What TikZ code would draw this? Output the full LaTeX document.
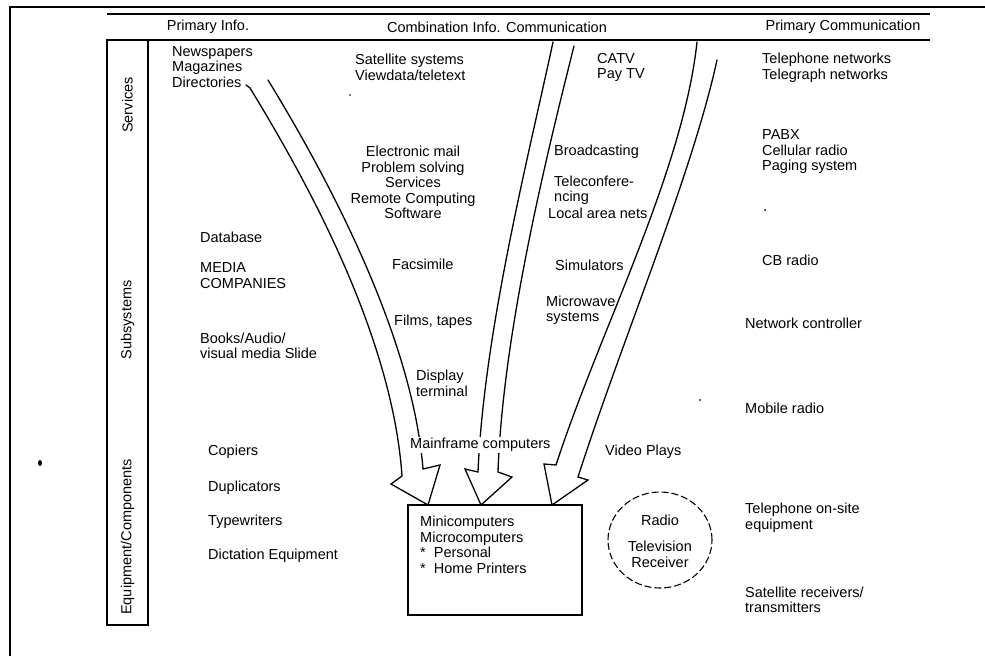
\documentclass[tikz,border=0pt]{standalone}
\usepackage{fontspec}
\setmainfont{Liberation Sans}
\usetikzlibrary{shapes.geometric}
\begin{document}
\begin{tikzpicture}[x=1pt,y=-1pt,
  txt/.style={font=\fontsize{14.5}{15.5}\selectfont, inner sep=0pt, align=left, anchor=west},
  ctxt/.style={font=\fontsize{14.5}{15.5}\selectfont, inner sep=0pt, align=center},
  rot/.style={font=\fontsize{14.5}{15.5}\selectfont, inner sep=0pt, rotate=90},
  rule/.style={line width=1.4pt},
  flow/.style={line width=1.3pt, line join=miter, line cap=round},
  speck/.style={fill=black}]
\useasboundingbox (0,0) rectangle (985,656);

% outer frame and header rules
\draw[rule] (10,656) -- (10,7) -- (985,7);
\draw[rule] (107,14) -- (930,14);
\draw[rule] (107,40) -- (930,40);

% row-label strip
\draw[line width=1.2pt] (107,40) rectangle (148,625);
\node[rot] (rowS) at (127.5,105) {Services};
\node[rot] (rowSub) at (127.5,320) {Subsystems};
\node[rot] (rowEq) at (127.5,537) {Equipment/Components};

% column headers
\node[ctxt] (hPI) at (208,27) {Primary Info.};
\node[ctxt] (hCIC) at (497,27) {Combination Info. Communication};
\node[ctxt] (hPC) at (843,27) {Primary Communication};

% primary information
\node[txt] (news) at (172,67) {Newspapers\\Magazines\\Directories};
\node[txt] (db) at (200,237) {Database};
\node[txt] (media) at (200,275.5) {MEDIA\\COMPANIES};
\node[txt] (books) at (200,346) {Books/Audio/\\visual media Slide};
\node[txt] (cop) at (208,452) {Copiers};
\node[txt] (dup) at (208,488) {Duplicators};
\node[txt] (typ) at (208,522) {Typewriters};
\node[txt] (dict) at (208,556) {Dictation Equipment};

% combination column
\node[txt] (sat) at (355,67.5) {Satellite systems\\Viewdata/teletext};
\node[ctxt] (email) at (413,182.5) {Electronic mail\\Problem solving\\Services\\Remote Computing\\Software};
\node[txt] (fax) at (392,264) {Facsimile};
\node[txt] (films) at (394,322) {Films, tapes};
\node[txt] (disp) at (416,383.5) {Display\\terminal};
\node[txt] (catv) at (597,67.5) {CATV\\Pay TV};
\node[txt] (bc) at (554,152) {Broadcasting};
\node[txt] (tele) at (554,190) {Teleconfere-\\ncing};
\node[txt] (lan) at (548,213) {Local area nets};
\node[txt] (sim) at (555,265) {Simulators};
\node[txt] (mw) at (546,310) {Microwave\\systems};

% primary communication
\node[txt] (tel) at (762,67.5) {Telephone networks\\Telegraph networks};
\node[txt] (pabx) at (762,152) {PABX\\Cellular radio\\Paging system};
\node[txt] (cb) at (762,260) {CB radio};
\node[txt] (net) at (745,323) {Network controller};
\node[txt] (mob) at (745,408) {Mobile radio};
\node[txt] (vid) at (605,452) {Video Plays};
\node[txt] (tos) at (745,517.5) {Telephone on-site\\equipment};
\node[txt] (satr) at (745,600) {Satellite receivers/\\transmitters};

% computer box
\node[draw, line width=1.2pt, minimum width=174pt, minimum height=110pt, inner sep=0pt] (box) at (495,560) {};
\node[txt] (mini) at (420,545) {Minicomputers\\Microcomputers\\*~~Personal\\*~~Home Printers};

% radio / television group
\node[draw, dashed, dash pattern=on 7pt off 3pt, line width=1.1pt, ellipse,
      minimum width=104pt, minimum height=96pt, inner sep=0pt] (rtv) at (660,540) {};
\node[ctxt] (radio) at (660,520) {Radio};
\node[ctxt] (tvr) at (660,554.5) {Television\\Receiver};

% hollow flow arrows into the box
\coordinate (aTopL) at (250,88);
\coordinate (aTopR) at (268,80);
\coordinate (bTopL) at (553,42);
\coordinate (bTopR) at (574,46);
\coordinate (cTopL) at (697,42);
\coordinate (cTopR) at (717,60);

\draw[flow] (246,85) -- (aTopL) .. controls (300,170) and (392,330) .. (402,476)
  -- (391,484) -- (428,505) -- (440,465) -- (423,469)
  .. controls (412,330) and (320,165) .. (aTopR);
\draw[flow] (bTopL) .. controls (530,150) and (484,330) .. (478,472)
  -- (465,469) -- (481,505) -- (512,477) -- (498,472)
  .. controls (503,330) and (548,150) .. (bTopR);
\draw[flow] (cTopL) .. controls (683,172) and (600,330) .. (556,465)
  -- (544,464) -- (552,505) -- (588,480) -- (578,477)
  .. controls (622,340) and (692,175) .. (cTopR);

% label laid over the arrow shafts
\node[txt, fill=white, inner xsep=0pt, inner ysep=1pt] (mf) at (410,445) {Mainframe computers};

% scanner specks
\fill[speck] (40,463) ellipse (2pt and 3pt);
\fill[speck] (350,95) circle (0.8pt);
\fill[speck] (765,210) circle (1pt);
\fill[speck] (700,400) circle (1pt);
\end{tikzpicture}
\end{document}
